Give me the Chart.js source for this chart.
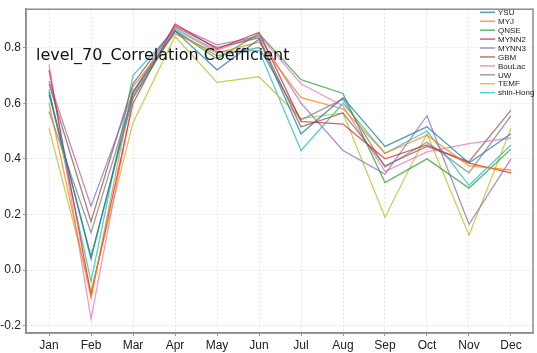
<!DOCTYPE html>
<html>
<head>
<meta charset="utf-8">
<script src="https://cdn.jsdelivr.net/npm/chart.js@4.4.1/dist/chart.umd.min.js"></script>
<style>
  html, body { margin: 0; padding: 0; background: #fff; }
  #wrap { width: 537px; height: 353px; }
</style>
</head>
<body>
<div id="wrap"><canvas id="chart" width="537" height="353"></canvas></div>
<script>
let months = ["Jan", "Feb", "Mar", "Apr", "May", "Jun", "Jul", "Aug", "Sep", "Oct", "Nov", "Dec"];
let yTicks = [-0.2, 0.0, 0.2, 0.4, 0.6, 0.8];
let chartTitle = "level_70_Correlation Coefficient";

let ysu      = [0.64,  0.04,  0.64, 0.86,  0.72,  0.83,  0.49,  0.62,  0.445, 0.515, 0.385, 0.49];
let myj      = [0.60, -0.10,  0.66, 0.85,  0.78,  0.82,  0.62,  0.58,  0.42,  0.485, 0.375, 0.36];
let qnse     = [0.63,  0.05,  0.62, 0.86,  0.76,  0.85,  0.685, 0.635, 0.315, 0.40,  0.295, 0.435];
let mynn2    = [0.72, -0.09,  0.60, 0.885, 0.795, 0.855, 0.535, 0.525, 0.40,  0.45,  0.385, 0.35];
let mynn3    = [0.68,  0.23,  0.64, 0.88,  0.81,  0.84,  0.60,  0.43,  0.345, 0.555, 0.165, 0.40];
let gbm      = [0.67,  0.175, 0.67, 0.875, 0.80,  0.835, 0.515, 0.565, 0.375, 0.445, 0.39,  0.575];
let boulac   = [0.74, -0.175, 0.62, 0.87,  0.79,  0.845, 0.67,  0.59,  0.355, 0.425, 0.455, 0.475];
let uw       = [0.57,  0.135, 0.63, 0.86,  0.77,  0.80,  0.54,  0.615, 0.37,  0.46,  0.35,  0.555];
let temf     = [0.51, -0.075, 0.53, 0.84,  0.675, 0.695, 0.545, 0.565, 0.19,  0.49,  0.125, 0.51];
let shinHong = [0.65, -0.04,  0.70, 0.865, 0.785, 0.79,  0.43,  0.60,  0.42,  0.50,  0.305, 0.45];

let seriesNames = ["YSU", "MYJ", "QNSE", "MYNN2", "MYNN3", "GBM", "BouLac", "UW", "TEMF", "shin-Hong"];
let seriesData = [ysu, myj, qnse, mynn2, mynn3, gbm, boulac, uw, temf, shinHong];
let seriesColours = [
    "rgba(31,119,180,0.75)", "rgba(255,127,14,0.75)", "rgba(44,160,44,0.75)",
    "rgba(214,39,40,0.75)", "rgba(148,103,189,0.75)", "rgba(140,86,75,0.75)",
    "rgba(227,119,194,0.75)", "rgba(127,127,127,0.75)", "rgba(188,189,34,0.75)",
    "rgba(23,190,207,0.75)"
];

// x positions are month numbers 1..12 so the linear scale can place them
function toPoints(values) {
    return values.map((v, i) => ({ x: i + 1, y: v }));
}

let datasets = seriesNames.map((name, i) => ({
    label: name,
    data: toPoints(seriesData[i]),
    borderColor: seriesColours[i],
    backgroundColor: seriesColours[i],
    borderWidth: 1.3,
    pointRadius: 0,
    tension: 0,
    fill: false
}));

// box round the plot + the title text inside it
let framePlugin = {
    id: "frame",
    afterDatasetsDraw(chart) {
        let ctx = chart.ctx;
        let a = chart.chartArea;
        ctx.save();
        ctx.font = '16px "DejaVu Sans"';
        ctx.fillStyle = "#111";
        ctx.textBaseline = "alphabetic";
        ctx.fillText(chartTitle, 36, 59.5);
        ctx.strokeStyle = "#8c8c8c";
        ctx.lineWidth = 1.5;
        ctx.strokeRect(a.left, a.top, a.right - a.left, a.bottom - a.top);
        ctx.restore();
    }
};

// small legend in the top right corner
let legendPlugin = {
    id: "cornerLegend",
    afterDraw(chart) {
        let ctx = chart.ctx;
        ctx.save();
        ctx.font = '8px "Liberation Sans"';
        ctx.textBaseline = "middle";
        chart.data.datasets.forEach((ds, i) => {
            let y = 12.3 + i * 8.93;
            ctx.strokeStyle = ds.borderColor;
            ctx.lineWidth = 1.5;
            ctx.beginPath();
            ctx.moveTo(480, y);
            ctx.lineTo(495, y);
            ctx.stroke();
            ctx.fillStyle = "#222";
            ctx.fillText(ds.label, 498, y + 0.5);
        });
        ctx.restore();
    }
};

new Chart(document.getElementById("chart").getContext("2d"), {
    type: "line",
    data: { datasets: datasets },
    options: {
        responsive: false,
        animation: false,
        devicePixelRatio: 1,
        layout: { padding: { top: 3, right: 4, left: 0, bottom: 0 } },
        plugins: {
            legend: { display: false },
            title: { display: false },
            tooltip: { enabled: false }
        },
        scales: {
            x: {
                type: "linear",
                min: 0.452,
                max: 12.524,
                afterBuildTicks: axis => { axis.ticks = months.map((m, i) => ({ value: i + 1 })); },
                afterFit: axis => { axis.height = 20; },
                ticks: {
                    callback: value => months[value - 1],
                    font: { family: "Liberation Sans", size: 12 },
                    color: "#222",
                    maxRotation: 0,
                    autoSkip: false,
                    padding: 2
                },
                grid: { color: "#e4e4e4", lineWidth: 1, tickLength: 3, tickColor: "#999" },
                border: { color: "#8c8c8c", width: 1.5, dash: [2, 2] }
            },
            y: {
                min: -0.226,
                max: 0.938,
                afterBuildTicks: axis => { axis.ticks = yTicks.map(v => ({ value: v })); },
                afterFit: axis => { axis.width = 26; },
                ticks: {
                    callback: value => value.toFixed(1),
                    font: { family: "Liberation Sans", size: 12 },
                    color: "#222",
                    padding: 2
                },
                grid: { color: "#e4e4e4", lineWidth: 1, tickLength: 3, tickColor: "#999" },
                border: { color: "#8c8c8c", width: 1.5, dash: [2, 2] }
            }
        }
    },
    plugins: [framePlugin, legendPlugin]
});
</script>
</body>
</html>
